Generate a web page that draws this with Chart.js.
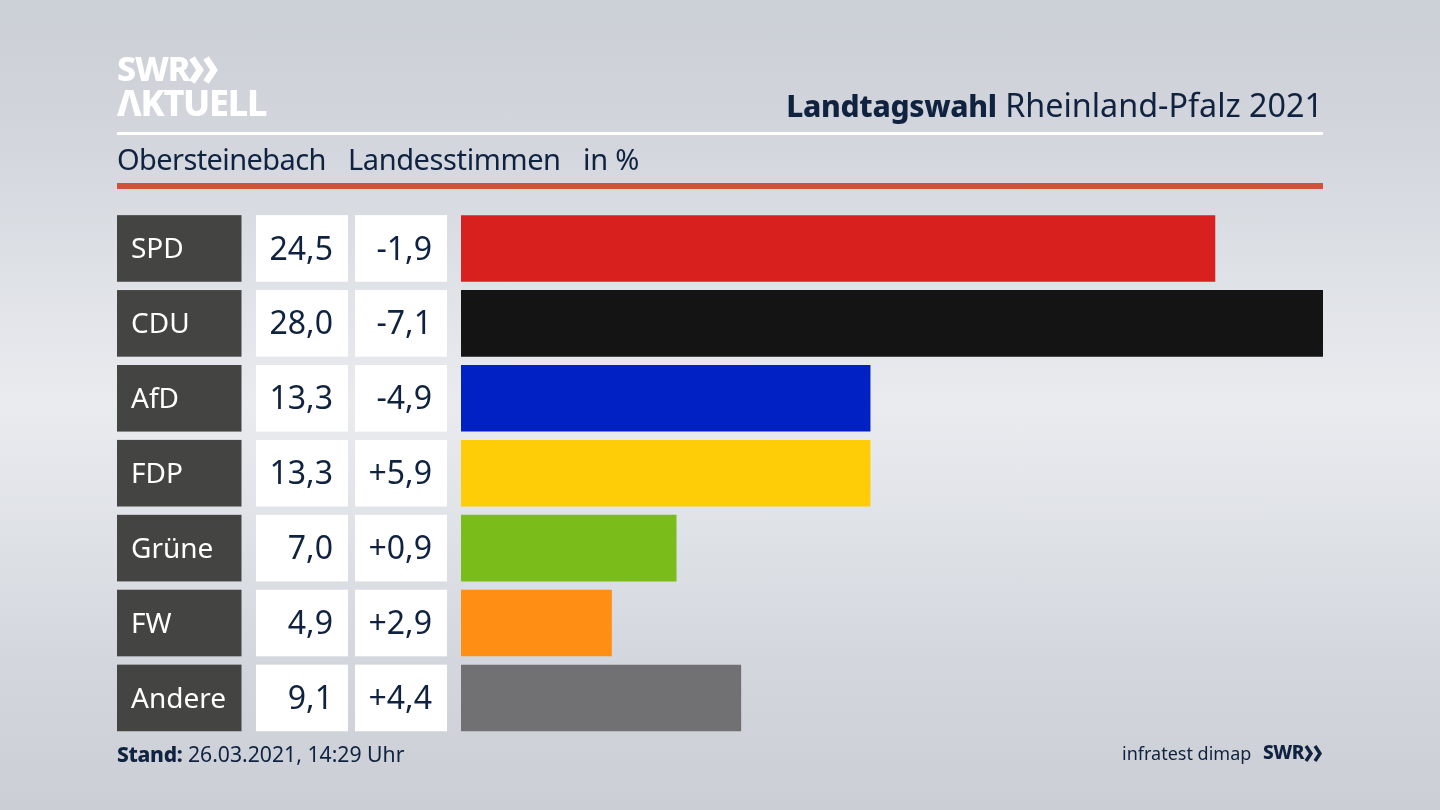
<!DOCTYPE html>
<html lang="de">
<head>
<meta charset="utf-8">
<title>Landtagswahl Rheinland-Pfalz 2021</title>
<script src="https://cdn.jsdelivr.net/npm/chart.js@4"></script>
<style>
  html, body { margin: 0; padding: 0; }
  body {
    width: 1440px; height: 810px; overflow: hidden; position: relative;
    background: linear-gradient(180deg, #cbcfd6 0%, #d3d6dc 18%, #dfe2e7 35%, #e9ebef 50%, #dfe2e7 65%, #d3d6dc 82%, #cbced5 100%);
    font-family: "Noto Sans", sans-serif; color: #0f2240;
  }
  canvas { position: absolute; left: 0; top: 0; }
  .abs { position: absolute; white-space: nowrap; line-height: 1; }
  .rule { position: absolute; left: 117px; width: 1206px; }
</style>
</head>
<body>
<canvas id="chart" width="1440" height="810"></canvas>

<div class="abs" style="left:117px;top:51px;font-size:34px;font-weight:800;color:#fff;letter-spacing:-1.2px">SWR</div>
<svg class="abs" style="left:189px;top:56px" width="32" height="28" viewBox="0 0 32 28" fill="none" stroke="#fff" stroke-width="6.5">
  <polyline points="3,2 11,14 3,26"/><polyline points="17,2 25,14 17,26"/>
</svg>
<div class="abs" style="left:117px;top:85px;font-size:36px;font-weight:800;color:#fff;letter-spacing:-1.3px">ΛKTUELL</div>

<div class="abs" style="right:117px;top:88px;font-size:32.3px"><b style="font-weight:800;font-size:30px;letter-spacing:-.3px">Landtagswahl</b> Rheinland-Pfalz 2021</div>
<div class="rule" style="top:132px;height:3px;background:#fff"></div>
<div class="abs" style="left:117px;top:144px;font-size:29px;letter-spacing:-.6px">Obersteinebach</div>
<div class="abs" style="left:348px;top:144px;font-size:29px;letter-spacing:-.4px">Landesstimmen</div>
<div class="abs" style="left:583px;top:144px;font-size:29px;letter-spacing:-.2px">in %</div>
<div class="rule" style="top:183px;height:6px;background:#cf5239"></div>

<div class="abs" style="left:117px;top:743px;font-size:21.2px"><b style="font-weight:800;font-size:21px;letter-spacing:-.3px">Stand:</b> 26.03.2021, 14:29 Uhr</div>
<div class="abs" style="left:1122px;top:744px;font-size:18px">infratest dimap</div>
<div class="abs" style="left:1263px;top:743px;font-size:19px;font-weight:800;letter-spacing:-.5px">SWR</div>
<svg class="abs" style="left:1304px;top:745px" width="20" height="17" viewBox="0 0 20 17" fill="none" stroke="#0f2240" stroke-width="3.4">
  <polyline points="2,1 7,8.5 2,16"/><polyline points="11,1 16,8.5 11,16"/>
</svg>

<script>
const parties = ["SPD", "CDU", "AfD", "FDP", "Grüne", "FW", "Andere"];
const votes = [24.5, 28.0, 13.3, 13.3, 7.0, 4.9, 9.1];
const diffs = [-1.9, -7.1, -4.9, 5.9, 0.9, 2.9, 4.4];
const barColors = ["#d8201f", "#141414", "#0221c4", "#ffcd08", "#7abc19", "#ff8f14", "#717173"];

const fmt = v => v.toFixed(1).replace(".", ",");
const fmtDiff = v => (v > 0 ? "+" : "") + fmt(v);

// party box and the two white number cells left of each bar
const rowCells = {
  id: "rowCells",
  afterDatasetsDraw(chart) {
    const { ctx, scales: { y } } = chart;
    const h = y.getPixelForValue(1) - y.getPixelForValue(0);
    const boxH = h * 0.889;
    ctx.save();
    ctx.textBaseline = "middle";
    parties.forEach((name, i) => {
      const cy = y.getPixelForValue(i);
      const top = cy - boxH / 2;
      ctx.fillStyle = "#444442";
      ctx.fillRect(117, top, 124.5, boxH);
      ctx.fillStyle = "#fff";
      ctx.fillRect(256, top, 92, boxH);
      ctx.fillRect(355, top, 92, boxH);

      ctx.textAlign = "left";
      ctx.font = '28px "Noto Sans", sans-serif';
      ctx.fillText(name, 131, cy + 2);

      ctx.fillStyle = "#0f2240";
      ctx.textAlign = "right";
      ctx.font = '32px "Noto Sans", sans-serif';
      ctx.fillText(fmt(votes[i]), 333, cy + 2);
      ctx.fillText(fmtDiff(diffs[i]), 432, cy + 2);
    });
    ctx.restore();
  },
};

new Chart(document.getElementById("chart").getContext("2d"), {
  type: "bar",
  data: {
    labels: parties,
    datasets: [{
      data: votes,
      backgroundColor: barColors,
      borderWidth: 0,
      barPercentage: 0.889,
      categoryPercentage: 1,
    }],
  },
  options: {
    indexAxis: "y",
    responsive: false,
    animation: false,
    layout: { padding: { left: 461, right: 117, top: 211, bottom: 74.6 } },
    plugins: { legend: { display: false }, tooltip: { enabled: false } },
    scales: {
      x: { display: false, min: 0, max: 28 },
      y: { display: false },
    },
  },
  plugins: [rowCells],
});
</script>
</body>
</html>
